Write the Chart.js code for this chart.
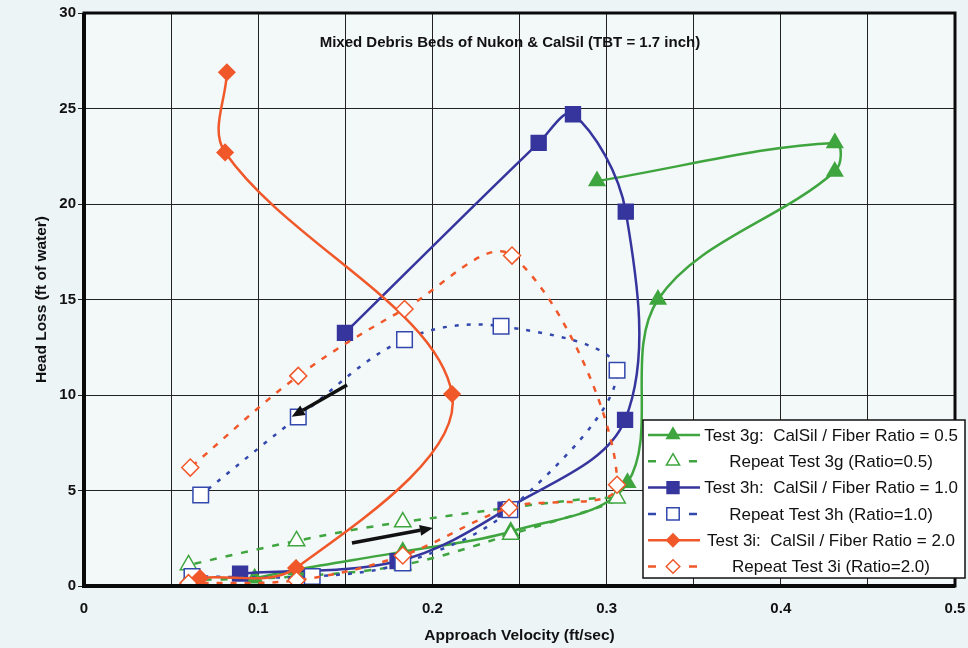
<!DOCTYPE html>
<html>
<head>
<meta charset="utf-8">
<title>Mixed Debris Beds of Nukon &amp; CalSil</title>
<script src="https://cdn.jsdelivr.net/npm/chart.js@4.4.1/dist/chart.umd.min.js"></script>
<style>
    html, body { margin: 0; padding: 0; background: #edf4f6; }
    #wrap { width: 968px; height: 648px; }
</style>
</head>
<body>
<div id="wrap"><canvas id="headLossChart" width="968" height="648"></canvas></div>
<script>
// values: approach velocity (ft/sec) and head loss (ft of water)
const test3gVelocity = [0.098, 0.122, 0.183, 0.245, 0.312, 0.3295, 0.431, 0.431, 0.2945];
const test3gHeadLoss = [0.4, 0.85, 1.8, 2.85, 5.4, 15.0, 21.7, 23.2, 21.2];

const repeat3gVelocity = [0.06, 0.122, 0.183, 0.245, 0.306, 0.183, 0.122, 0.06];
const repeat3gHeadLoss = [0.3, 0.5, 1.1, 2.7, 4.6, 3.35, 2.36, 1.1];

const test3hVelocity = [0.0896, 0.18, 0.242, 0.3106, 0.311, 0.2807, 0.261, 0.1498];
const test3hHeadLoss = [0.65, 1.3, 4.0, 8.7, 19.6, 24.7, 23.2, 13.25];

const repeat3hVelocity = [0.062, 0.131, 0.183, 0.2445, 0.306, 0.2394, 0.184, 0.123, 0.067];
const repeat3hHeadLoss = [0.5, 0.5, 1.2, 4.0, 11.3, 13.6, 12.9, 8.85, 4.76];

const test3iVelocity = [0.0666, 0.1217, 0.2113, 0.081, 0.082];
const test3iHeadLoss = [0.42, 0.94, 10.05, 22.7, 26.9];

const repeat3iVelocity = [0.06, 0.122, 0.183, 0.244, 0.306, 0.2457, 0.184, 0.123, 0.061];
const repeat3iHeadLoss = [0.15, 0.3, 1.6, 4.1, 5.3, 17.3, 14.5, 11.0, 6.2];

const seriesLabels = [
    'Test 3g:  CalSil / Fiber Ratio = 0.5',
    'Repeat Test 3g (Ratio=0.5)',
    'Test 3h:  CalSil / Fiber Ratio = 1.0',
    'Repeat Test 3h (Ratio=1.0)',
    'Test 3i:  CalSil / Fiber Ratio = 2.0',
    'Repeat Test 3i (Ratio=2.0)'
];

const xTickLabels = ['0', '0.1', '0.2', '0.3', '0.4', '0.5'];
const yTickLabels = ['0', '5', '10', '15', '20', '25', '30'];

const chartTitle = 'Mixed Debris Beds of Nukon & CalSil (TBT = 1.7 inch)';

// the two hand drawn arrows, in axis units: [fromX, fromY, toX, toY]
const arrowDecreasing = [0.151, 10.52, 0.1192, 8.86];
const arrowIncreasing = [0.1538, 2.25, 0.2003, 3.04];

const GREEN = '#3fa53f';
const BLUE = '#35359d';
const LIGHT_BLUE = '#3348ad';
const ORANGE = '#f0582a';
const FONT = '"Liberation Sans", Arial, sans-serif';

const seriesStyles = [
    { color: GREEN, marker: 'triangle', filled: true, dash: [], radius: 9 },
    { color: GREEN, marker: 'triangle', filled: false, dash: [7, 9], radius: 9.5 },
    { color: BLUE, marker: 'rect', filled: true, dash: [], radius: 10.5 },
    { color: LIGHT_BLUE, marker: 'rect', filled: false, dash: [4, 8], radius: 11 },
    { color: ORANGE, marker: 'rectRot', filled: true, dash: [], radius: 8 },
    { color: ORANGE, marker: 'rectRot', filled: false, dash: [6, 8], radius: 8.5 }
];

function toPoints(xs, ys) {
    return xs.map((x, i) => ({ x: x, y: ys[i] }));
}

const seriesPoints = [
    toPoints(test3gVelocity, test3gHeadLoss),
    toPoints(repeat3gVelocity, repeat3gHeadLoss),
    toPoints(test3hVelocity, test3hHeadLoss),
    toPoints(repeat3hVelocity, repeat3hHeadLoss),
    toPoints(test3iVelocity, test3iHeadLoss),
    toPoints(repeat3iVelocity, repeat3iHeadLoss)
];

function drawMarker(ctx, style, x, y, r) {
    ctx.beginPath();
    if (style === 'triangle') {
        ctx.moveTo(x, y - r);
        ctx.lineTo(x + r * 0.866, y + r * 0.5);
        ctx.lineTo(x - r * 0.866, y + r * 0.5);
    } else if (style === 'rect') {
        const s = r * Math.SQRT1_2;
        ctx.rect(x - s, y - s, 2 * s, 2 * s);
    } else {
        ctx.moveTo(x - r, y);
        ctx.lineTo(x, y - r);
        ctx.lineTo(x + r, y);
        ctx.lineTo(x, y + r);
    }
    ctx.closePath();
    ctx.fill();
    ctx.stroke();
}

function drawArrow(chart, arrow) {
    const ctx = chart.ctx;
    const xs = chart.scales.x, ys = chart.scales.y;
    const x1 = xs.getPixelForValue(arrow[0]), y1 = ys.getPixelForValue(arrow[1]);
    const x2 = xs.getPixelForValue(arrow[2]), y2 = ys.getPixelForValue(arrow[3]);
    const ang = Math.atan2(y2 - y1, x2 - x1);
    const len = 13, half = 5.5;
    const bx = x2 - len * Math.cos(ang), by = y2 - len * Math.sin(ang);

    ctx.save();
    ctx.strokeStyle = '#111';
    ctx.fillStyle = '#111';
    ctx.lineWidth = 3.5;
    ctx.beginPath();
    ctx.moveTo(x1, y1);
    ctx.lineTo(bx, by);
    ctx.stroke();
    ctx.beginPath();
    ctx.moveTo(x2, y2);
    ctx.lineTo(bx + half * Math.sin(ang), by - half * Math.cos(ang));
    ctx.lineTo(bx - half * Math.sin(ang), by + half * Math.cos(ang));
    ctx.closePath();
    ctx.fill();
    ctx.restore();
}

function drawLegend(ctx) {
    const left = 643, top = 420, width = 322, height = 158, rowH = 26.3;
    ctx.save();
    ctx.fillStyle = '#ffffff';
    ctx.fillRect(left, top, width, height);
    ctx.strokeStyle = '#111';
    ctx.lineWidth = 1.5;
    ctx.strokeRect(left, top, width, height);

    ctx.font = '17px ' + FONT;
    ctx.textAlign = 'center';
    ctx.textBaseline = 'middle';
    seriesStyles.forEach((s, i) => {
        const y = top + 15 + i * rowH;
        ctx.strokeStyle = s.color;
        ctx.lineWidth = 2.5;
        ctx.beginPath();
        if (s.dash.length) {
            ctx.moveTo(648, y); ctx.lineTo(656, y);
            ctx.moveTo(689, y); ctx.lineTo(697, y);
        } else {
            ctx.moveTo(648, y); ctx.lineTo(700, y);
        }
        ctx.stroke();
        ctx.fillStyle = s.filled ? s.color : '#ffffff';
        ctx.lineWidth = 1.5;
        drawMarker(ctx, s.marker, 673, y, s.radius * 0.8);
        ctx.fillStyle = '#111';
        ctx.fillText(seriesLabels[i], 831, y + 1);
    });
    ctx.restore();
}

const decorPlugin = {
    id: 'decor',
    beforeDraw(chart) {
        const ctx = chart.ctx, a = chart.chartArea;
        ctx.save();
        ctx.fillStyle = '#edf4f6';
        ctx.fillRect(0, 0, chart.width, chart.height);
        ctx.fillStyle = '#f3f8f9';
        ctx.fillRect(a.left, a.top, a.right - a.left, a.bottom - a.top);
        ctx.restore();
    },
    afterDatasetsDraw(chart) {
        const ctx = chart.ctx, a = chart.chartArea;
        ctx.save();
        ctx.strokeStyle = '#0a0a0a';
        ctx.lineWidth = 3;
        ctx.strokeRect(a.left, a.top, a.right - a.left, a.bottom - a.top);
        ctx.lineWidth = 4;
        ctx.beginPath();
        ctx.moveTo(a.left, a.top);
        ctx.lineTo(a.left, a.bottom);
        ctx.lineTo(a.right, a.bottom);
        ctx.stroke();

        ctx.fillStyle = '#111';
        ctx.font = 'bold 15px ' + FONT;
        ctx.textAlign = 'center';
        ctx.textBaseline = 'middle';
        ctx.fillText(chartTitle, chart.scales.x.getPixelForValue(0.2445), chart.scales.y.getPixelForValue(28.45));
        ctx.restore();

        drawArrow(chart, arrowDecreasing);
        drawArrow(chart, arrowIncreasing);
    },
    afterDraw(chart) {
        drawLegend(chart.ctx);
    }
};

function buildDatasets() {
    return seriesPoints.map((pts, i) => {
        const s = seriesStyles[i];
        return {
            label: seriesLabels[i],
            data: pts,
            showLine: true,
            tension: 0.35,
            borderColor: s.color,
            borderWidth: 2.5,
            borderDash: s.dash,
            pointStyle: s.marker,
            pointRadius: s.radius,
            pointHoverRadius: s.radius,
            pointBackgroundColor: s.filled ? s.color : '#ffffff',
            pointBorderColor: s.color,
            pointBorderWidth: 1.5,
            order: seriesStyles.length - i
        };
    });
}

function labelFor(value, labels) {
    const hit = labels.find(l => Math.abs(parseFloat(l) - value) < 1e-6);
    return hit === undefined ? '' : hit;
}

// plot frame spans x 84..955 and y 13..586 in the scan
function fitXAxis(scale) {
    scale.height = 62;
    scale.paddingLeft = 0;
    scale.paddingRight = 0;
}

function fitYAxis(scale) {
    scale.width = 84;
    scale.paddingTop = 0;
    scale.paddingBottom = 0;
}

function renderHeadLossChart() {
    const ctx = document.getElementById('headLossChart').getContext('2d');
    new Chart(ctx, {
        type: 'scatter',
        data: { datasets: buildDatasets() },
        options: {
            responsive: false,
            animation: false,
            devicePixelRatio: 1,
            layout: { padding: { top: 13, right: 13, left: 0, bottom: 0 } },
            plugins: {
                legend: { display: false },
                tooltip: { enabled: false },
                title: { display: false }
            },
            scales: {
                x: {
                    type: 'linear',
                    min: 0,
                    max: 0.5,
                    afterFit: fitXAxis,
                    border: { display: false },
                    grid: { color: '#222', lineWidth: 1, drawTicks: false },
                    ticks: {
                        stepSize: 0.05,
                        autoSkip: false,
                        maxRotation: 0,
                        padding: 14,
                        color: '#111',
                        font: { family: FONT, size: 15, weight: 'bold' },
                        callback: value => labelFor(value, xTickLabels)
                    },
                    title: {
                        display: true,
                        text: 'Approach Velocity (ft/sec)',
                        color: '#111',
                        padding: { top: 0, bottom: 3 },
                        font: { family: FONT, size: 15.5, weight: 'bold' }
                    }
                },
                y: {
                    type: 'linear',
                    min: 0,
                    max: 30,
                    afterFit: fitYAxis,
                    border: { display: false },
                    grid: { color: '#222', lineWidth: 1, tickLength: 6 },
                    ticks: {
                        stepSize: 5,
                        padding: 2,
                        color: '#111',
                        font: { family: FONT, size: 15, weight: 'bold' },
                        callback: value => labelFor(value, yTickLabels)
                    },
                    title: {
                        display: true,
                        text: 'Head Loss (ft of water)',
                        color: '#111',
                        padding: { top: 32, bottom: 0 },
                        font: { family: FONT, size: 15.5, weight: 'bold' }
                    }
                }
            }
        },
        plugins: [decorPlugin]
    });
}

document.addEventListener('DOMContentLoaded', renderHeadLossChart);
</script>
</body>
</html>
